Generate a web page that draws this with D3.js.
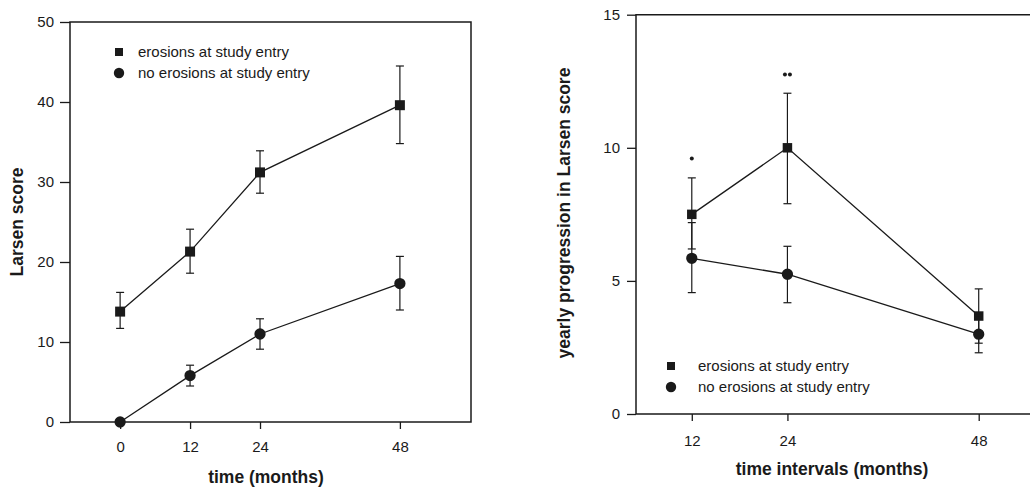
<!DOCTYPE html>
<html>
<head>
<meta charset="utf-8">
<script src="https://cdn.jsdelivr.net/npm/d3@7"></script>
<style>
  body { margin: 0; background: #fff; }
  text { font-family: "Liberation Sans", Arial, sans-serif; fill: #1a1a1a; }
  .axis path { display: none; }
  .axis line { stroke: #1a1a1a; stroke-width: 1.3; }
  .axis text { font-size: 15px; }
  .title { font-size: 17.5px; font-weight: bold; }
  .legend { font-size: 15px; }
</style>
</head>
<body>
<div id="chart"></div>
<script>
// left panel: Larsen score over time
const leftMonths = [0, 12, 24, 48];
const leftErosions = [13.8, 21.3, 31.2, 39.6];
const leftErosionsLow = [11.7, 18.6, 28.6, 34.8];
const leftErosionsHigh = [16.2, 24.1, 33.9, 44.5];
const leftNoErosions = [0, 5.8, 11.0, 17.3];
const leftNoErosionsLow = [null, 4.5, 9.1, 14.0];
const leftNoErosionsHigh = [null, 7.1, 12.9, 20.7];
const leftYTicks = [0, 10, 20, 30, 40, 50];

// right panel: yearly progression per interval
const rightMonths = [12, 24, 48];
const rightErosions = [7.5, 10.0, 3.68];
const rightErosionsLow = [6.2, 7.9, 2.66];
const rightErosionsHigh = [8.87, 12.05, 4.7];
const rightNoErosions = [5.85, 5.25, 3.0];
const rightNoErosionsLow = [4.56, 4.18, 2.3];
const rightNoErosionsHigh = [7.19, 6.3, 3.7];
const rightYTicks = [0, 5, 10, 15];
const rightStars = [{ month: 12, value: 9.6, n: 1 }, { month: 24, value: 12.75, n: 2 }];

const legendLabels = ['erosions at study entry', 'no erosions at study entry'];

const ink = '#1a1a1a';

const svg = d3.select('#chart').append('svg')
  .attr('width', 1030)
  .attr('height', 488);

/**
 * Draws one series: connecting line, error bars and markers.
 */
function drawSeries(g, x, y, months, values, low, high, shape, size) {
  const pts = months.map((m, i) => ({ m: m, v: values[i], lo: low[i], hi: high[i] }));

  g.append('path')
    .datum(pts)
    .attr('fill', 'none')
    .attr('stroke', ink)
    .attr('stroke-width', 1.3)
    .attr('d', d3.line().x(d => x(d.m)).y(d => y(d.v)));

  const bars = g.selectAll(null)
    .data(pts.filter(d => d.lo !== null))
    .enter().append('g')
    .attr('stroke', ink)
    .attr('stroke-width', 1.2);

  bars.append('line')
    .attr('x1', d => x(d.m)).attr('x2', d => x(d.m))
    .attr('y1', d => y(d.lo)).attr('y2', d => y(d.hi));
  bars.append('line')
    .attr('x1', d => x(d.m) - 4).attr('x2', d => x(d.m) + 4)
    .attr('y1', d => y(d.lo)).attr('y2', d => y(d.lo));
  bars.append('line')
    .attr('x1', d => x(d.m) - 4).attr('x2', d => x(d.m) + 4)
    .attr('y1', d => y(d.hi)).attr('y2', d => y(d.hi));

  g.selectAll(null)
    .data(pts)
    .enter().append('path')
    .attr('fill', ink)
    .attr('transform', d => `translate(${x(d.m)},${y(d.v)})`)
    .attr('d', d3.symbol().type(shape).size(size));
}

/**
 * Legend with a square and a circle entry.
 */
function drawLegend(g, mx, my, tx) {
  g.append('path')
    .attr('fill', ink)
    .attr('transform', `translate(${mx},${my})`)
    .attr('d', d3.symbol().type(d3.symbolSquare).size(64));
  g.append('path')
    .attr('fill', ink)
    .attr('transform', `translate(${mx},${my + 21})`)
    .attr('d', d3.symbol().type(d3.symbolCircle).size(85));

  g.selectAll(null)
    .data(legendLabels)
    .enter().append('text')
    .attr('class', 'legend')
    .attr('x', tx)
    .attr('y', (d, i) => my + 5 + i * 21)
    .text(d => d);
}

// ---------- left panel ----------
const lx = d3.scaleLinear().domain([-8.6, 60.2]).range([70, 471]);
const ly = d3.scaleLinear().domain([0, 50]).range([422, 22]);
const left = svg.append('g');

left.append('rect')
  .attr('x', lx.range()[0]).attr('y', ly.range()[1])
  .attr('width', lx.range()[1] - lx.range()[0])
  .attr('height', ly.range()[0] - ly.range()[1])
  .attr('fill', 'none')
  .attr('stroke', ink)
  .attr('stroke-width', 1.5);

left.append('g')
  .attr('class', 'axis')
  .attr('transform', `translate(${lx.range()[0]},0)`)
  .call(d3.axisLeft(ly).tickValues(leftYTicks).tickSize(10).tickPadding(6));

left.append('g')
  .attr('class', 'axis')
  .attr('transform', `translate(0,${ly.range()[0]})`)
  .call(d3.axisBottom(lx).tickValues(leftMonths).tickFormat(d3.format('d')).tickSize(7).tickPadding(12));

drawSeries(left, lx, ly, leftMonths, leftErosions, leftErosionsLow, leftErosionsHigh, d3.symbolSquare, 100);
drawSeries(left, lx, ly, leftMonths, leftNoErosions, leftNoErosionsLow, leftNoErosionsHigh, d3.symbolCircle, 100);
drawLegend(left, 119, 52, 138);

left.append('text')
  .attr('class', 'title')
  .attr('text-anchor', 'middle')
  .attr('transform', `translate(23,${(ly.range()[0] + ly.range()[1]) / 2}) rotate(-90)`)
  .text('Larsen score');

left.append('text')
  .attr('class', 'title')
  .attr('text-anchor', 'middle')
  .attr('x', 266).attr('y', 483)
  .text('time (months)');

// ---------- right panel ----------
const rx = d3.scaleLinear().domain([5, 55]).range([636, 1034.5]);
const ry = d3.scaleLinear().domain([0, 15]).range([414, 14.7]);
const right = svg.append('g');

right.append('path')
  .attr('fill', 'none')
  .attr('stroke', ink)
  .attr('stroke-width', 1.5)
  .attr('d', `M${rx.range()[1]},${ry.range()[1]}H${rx.range()[0]}V${ry.range()[0]}H${rx.range()[1]}`);

right.append('g')
  .attr('class', 'axis')
  .attr('transform', `translate(${rx.range()[0]},0)`)
  .call(d3.axisLeft(ry).tickValues(rightYTicks).tickSize(9).tickPadding(7));

right.append('g')
  .attr('class', 'axis')
  .attr('transform', `translate(0,${ry.range()[0]})`)
  .call(d3.axisBottom(rx).tickValues(rightMonths).tickFormat(d3.format('d')).tickSize(7).tickPadding(14));

drawSeries(right, rx, ry, rightMonths, rightErosions, rightErosionsLow, rightErosionsHigh, d3.symbolSquare, 90);
drawSeries(right, rx, ry, rightMonths, rightNoErosions, rightNoErosionsLow, rightNoErosionsHigh, d3.symbolCircle, 100);
drawLegend(right, 671, 366, 698);

// significance marks
rightStars.forEach(s => {
  right.selectAll(null)
    .data(d3.range(s.n))
    .enter().append('circle')
    .attr('cx', i => rx(s.month) + (i - (s.n - 1) / 2) * 5)
    .attr('cy', ry(s.value))
    .attr('r', 2)
    .attr('fill', ink);
});

right.append('text')
  .attr('class', 'title')
  .attr('text-anchor', 'middle')
  .attr('transform', `translate(570,213) rotate(-90)`)
  .text('yearly progression in Larsen score');

right.append('text')
  .attr('class', 'title')
  .attr('text-anchor', 'middle')
  .attr('x', 832).attr('y', 475)
  .text('time intervals (months)');
</script>
</body>
</html>
